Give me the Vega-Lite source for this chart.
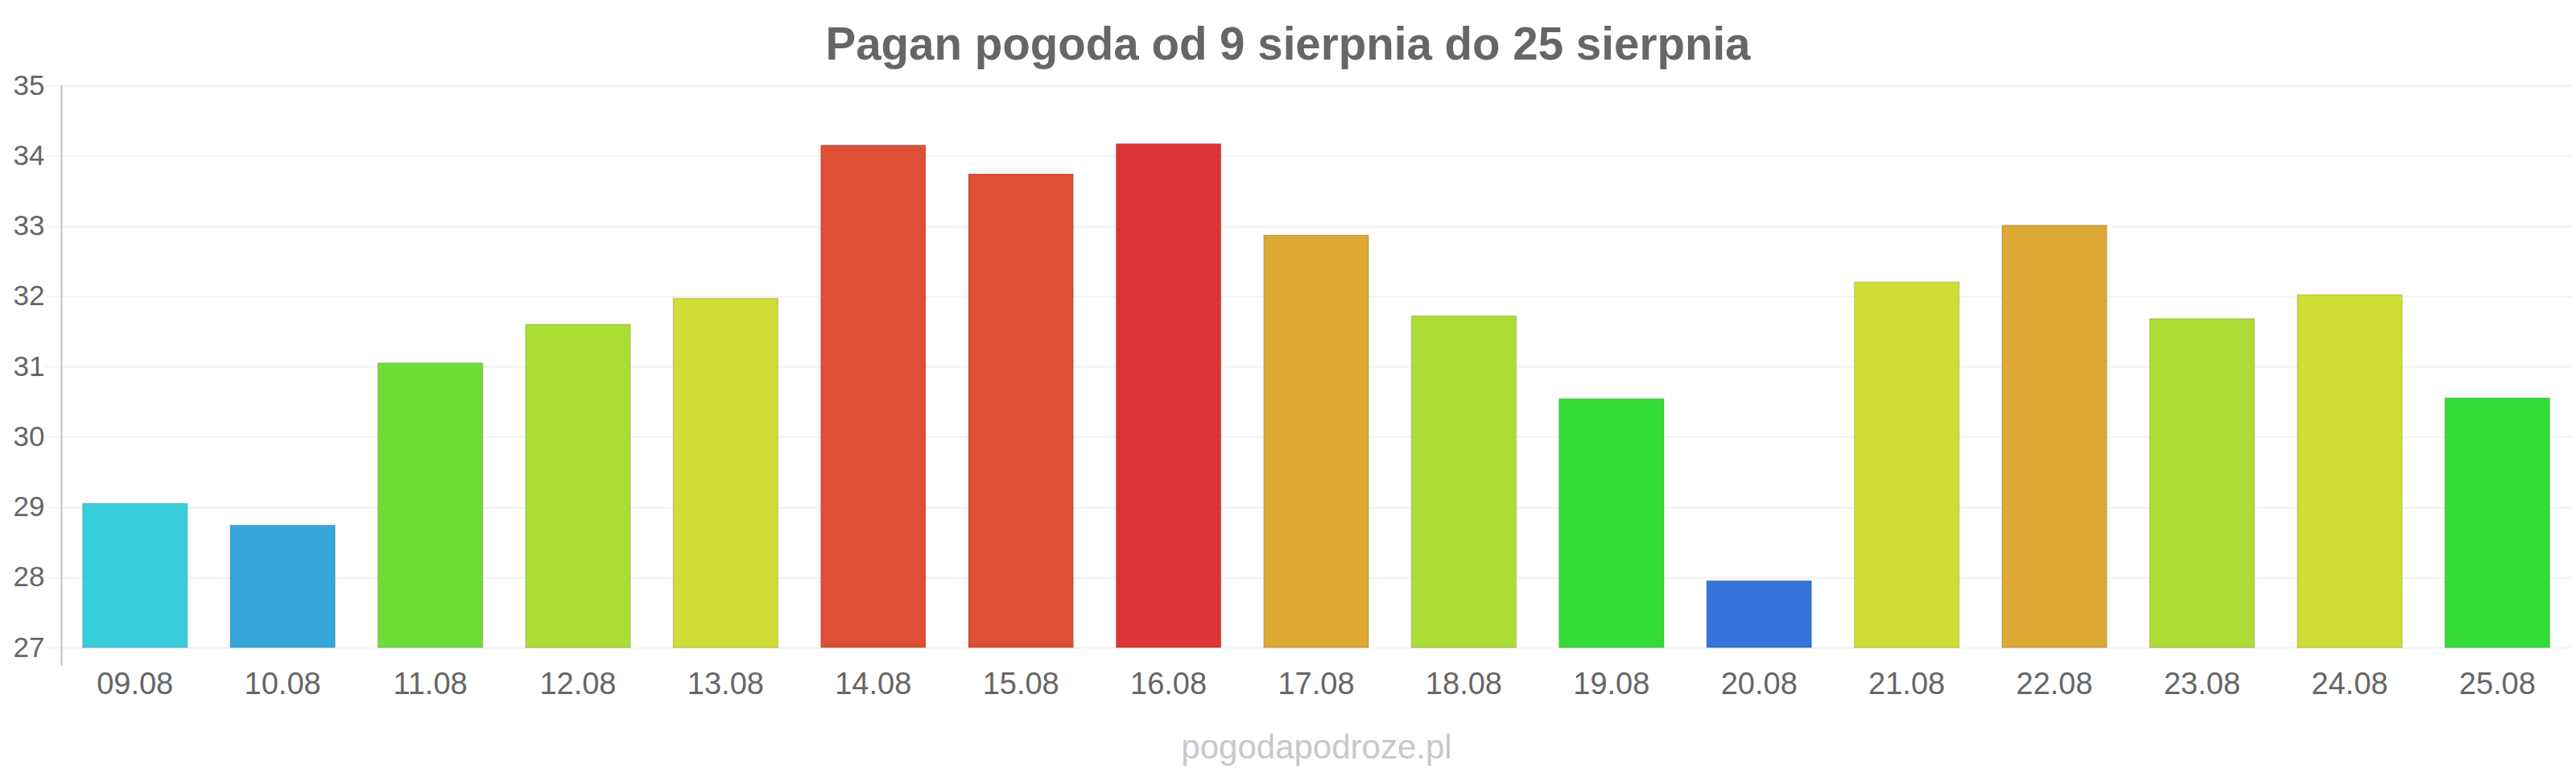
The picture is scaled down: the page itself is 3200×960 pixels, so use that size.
{
  "$schema": "https://vega.github.io/schema/vega-lite/v6.json",
  "width": 3118,
  "height": 720,
  "autosize": {"type": "none"},
  "padding": {"left": 76, "top": 106, "right": 6, "bottom": 134},
  "background": "#ffffff",
  "title": {
    "text": "Pagan pogoda od 9 sierpnia do 25 sierpnia",
    "font": "Liberation Sans",
    "fontSize": 56.5,
    "fontWeight": "bold",
    "color": "#666666",
    "anchor": "middle",
    "dx": -35,
    "offset": 4
  },
  "data": {
    "values": [
      {"date": "09.08", "temp": 29.05},
      {"date": "10.08", "temp": 28.74},
      {"date": "11.08", "temp": 31.05},
      {"date": "12.08", "temp": 31.6},
      {"date": "13.08", "temp": 31.97},
      {"date": "14.08", "temp": 34.15},
      {"date": "15.08", "temp": 33.74},
      {"date": "16.08", "temp": 34.17},
      {"date": "17.08", "temp": 32.87},
      {"date": "18.08", "temp": 31.72},
      {"date": "19.08", "temp": 30.54},
      {"date": "20.08", "temp": 27.95},
      {"date": "21.08", "temp": 32.2},
      {"date": "22.08", "temp": 33.01},
      {"date": "23.08", "temp": 31.68},
      {"date": "24.08", "temp": 32.02},
      {"date": "25.08", "temp": 30.55}
    ]
  },
  "mark": {"type": "bar", "stroke": "#000000", "strokeOpacity": 0.13, "strokeWidth": 1.5},
  "encoding": {
    "x": {
      "field": "date",
      "type": "nominal",
      "sort": null,
      "scale": {"paddingInner": 0.29, "paddingOuter": 0.145},
      "axis": {
        "title": "pogodapodroze.pl",
        "titleFont": "Liberation Sans",
        "titleFontSize": 42,
        "titleFontWeight": "normal",
        "titleColor": "#c8c8cc",
        "titlePadding": 39,
        "labelFont": "Liberation Sans",
        "labelFontSize": 38,
        "labelColor": "#666666",
        "labelAngle": 0,
        "labelPadding": 5,
        "ticks": false,
        "tickSize": 0,
        "domain": false,
        "grid": false
      }
    },
    "y": {
      "field": "temp",
      "type": "quantitative",
      "scale": {"domain": [26.75, 35], "nice": false, "zero": false},
      "axis": {
        "title": null,
        "values": [27, 28, 29, 30, 31, 32, 33, 34, 35],
        "labelFont": "Liberation Sans",
        "labelFontSize": 35,
        "labelColor": "#666666",
        "labelPadding": 1,
        "ticks": true,
        "tickSize": 20,
        "tickColor": "#f2f2f2",
        "tickWidth": 2,
        "domain": true,
        "domainColor": "#c0c0c0",
        "domainWidth": 2,
        "grid": true,
        "gridColor": "#f2f2f2",
        "gridWidth": 2
      }
    },
    "y2": {"datum": 27},
    "color": {
      "field": "date",
      "type": "nominal",
      "sort": null,
      "legend": null,
      "scale": {
        "domain": ["09.08", "10.08", "11.08", "12.08", "13.08", "14.08", "15.08", "16.08", "17.08", "18.08", "19.08", "20.08", "21.08", "22.08", "23.08", "24.08", "25.08"],
        "range": ["#36ced9", "#36a7da", "#6edc37", "#acdd35", "#cfdd36", "#dd5035", "#dd5035", "#db3435", "#dda935", "#acdd35", "#36dc36", "#3574db", "#cfdd36", "#dda935", "#acdd35", "#cfdd36", "#36dc36"]
      }
    }
  },
  "config": {"view": {"stroke": null}}
}
